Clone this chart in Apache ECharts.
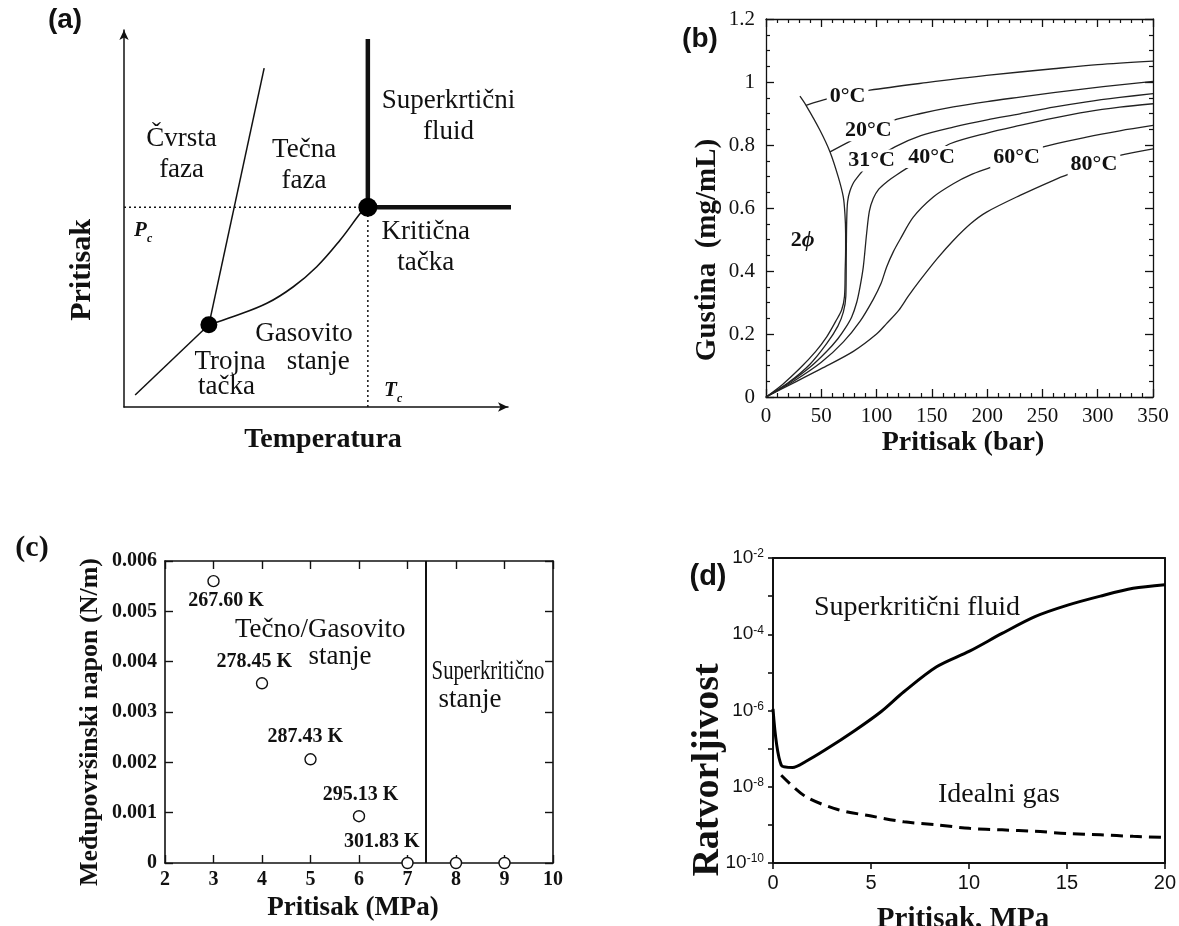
<!DOCTYPE html>
<html>
<head>
<meta charset="utf-8">
<script src="https://cdn.jsdelivr.net/npm/echarts@6/dist/echarts.min.js"></script>
<style>
  html, body { margin: 0; padding: 0; background: #fff; }
  #chart { width: 1179px; height: 926px; }
</style>
</head>
<body>
<div id="chart"></div>
<script>
const SERIF = '"Liberation Serif", "Times New Roman", serif'
const SANS = '"Liberation Sans", Arial, sans-serif'
const NARROW = '"Liberation Sans Narrow", "Liberation Sans", Arial, sans-serif'
const INK = '#111'

// (a) fazni dijagram, shematske jedinice (temperatura, pritisak)
const triplePoint = [22.1, 21.8]
const criticalPoint = [63.5, 53]
const meltLine = [[22.1, 21.8], [36.5, 89.9]]
const sublimationLine = [[2.9, 3.2], [22.1, 21.8]]
const vaporLine = [[22.1, 21.8], [28.5, 24.0], [37.2, 27.5], [44.1, 31.9], [50.2, 37.2], [56.3, 44.3], [62.3, 52.3], [63.5, 53]]
const superVertical = [[63.5, 53], [63.5, 97.6]]
const superHorizontal = [[63.5, 53], [107, 53]]
const pcLine = [[0, 53], [63.5, 53]]
const tcLine = [[63.5, 0], [63.5, 53]]
const phaseLabels = [
  [15.0, 67.1, 'Čvrsta\nfaza'],
  [46.9, 64.2, 'Tečna\nfaza'],
  [84.5, 77.0, 'Superkrtični\nfluid'],
  [78.6, 42.3, 'Kritična\ntačka'],
  [46.9, 19.5, 'Gasovito'],
  [50.6, 12.0, 'stanje'],
  [27.6, 12.0, 'Trojna'],
  [26.7, 5.4, 'tačka']
]
const pcLabel = [5.0, 46.9]
const tcLabel = [70.1, 4.5]

// (b) gustina CO2 (mg/mL) u zavisnosti od pritiska (bar)
const dome = [[0, 0], [15, 0.04], [30.7, 0.091], [45, 0.145], [54.9, 0.191], [63, 0.24], [68.4, 0.276], [71, 0.32], [71.6, 0.4], [72, 0.47], [72, 0.52], [71.4, 0.58], [69.9, 0.635], [65.4, 0.698], [57.9, 0.778], [48.8, 0.847], [36.2, 0.926], [30.7, 0.955]]
const iso0 = [[36.2, 0.926], [56.4, 0.947], [73.8, 0.959], [94, 0.974], [145, 0.998], [199.5, 1.021], [259.8, 1.042], [300, 1.055], [350, 1.066]]
const iso20 = [[57.9, 0.778], [75, 0.81], [92.5, 0.84], [115.1, 0.878], [140, 0.9], [169.4, 0.921], [200, 0.938], [229.7, 0.952], [260, 0.966], [289.9, 0.979], [320, 0.991], [350, 1.002]]
const iso31 = [[0, 0], [20, 0.045], [40, 0.105], [55, 0.17], [65, 0.225], [70, 0.27], [72.2, 0.32], [72.6, 0.45], [73, 0.56], [73.8, 0.62], [76, 0.655], [80.5, 0.688], [95.5, 0.745], [116.6, 0.794], [140, 0.83], [169.4, 0.857], [200, 0.88], [229.7, 0.899], [260, 0.92], [289.9, 0.937], [320, 0.951], [350, 0.963]]
const iso40 = [[0, 0], [20, 0.043], [40, 0.095], [55, 0.145], [65, 0.185], [72, 0.22], [77.5, 0.254], [82, 0.3], [85, 0.349], [88, 0.413], [91, 0.519], [93.5, 0.59], [97, 0.63], [102, 0.66], [110, 0.685], [118, 0.705], [134, 0.74], [149.8, 0.768], [166.4, 0.804], [200, 0.838], [229.7, 0.862], [260, 0.885], [289.9, 0.905], [320, 0.92], [350, 0.931]]
const iso60 = [[0, 0], [25, 0.05], [50, 0.11], [70, 0.175], [85, 0.24], [97, 0.31], [104, 0.36], [109.1, 0.413], [115, 0.46], [121.2, 0.5], [133.2, 0.571], [151.3, 0.635], [169.4, 0.677], [185, 0.705], [202.5, 0.728], [226.6, 0.76], [250.8, 0.794], [289.9, 0.825], [320, 0.845], [350, 0.862]]
const iso80 = [[0, 0], [25, 0.045], [50, 0.09], [79, 0.145], [100, 0.2], [109, 0.233], [120, 0.275], [128.7, 0.32], [139.2, 0.37], [155, 0.44], [169.4, 0.497], [185, 0.55], [199.5, 0.587], [229.7, 0.64], [260, 0.688], [274.9, 0.709], [296.6, 0.737], [320, 0.767], [350, 0.788]]
const isoLabels = [
  [73.8, 0.956, '0°C'],
  [92.5, 0.847, '20°C'],
  [95.5, 0.751, '31°C'],
  [149.8, 0.762, '40°C'],
  [226.6, 0.762, '60°C'],
  [296.6, 0.738, '80°C']
]
const twoPhaseLabel = [33.2, 0.499]

// (c) međupovršinski napon (N/m) u zavisnosti od pritiska (MPa)
const pressureC = [3, 4, 5, 6, 7, 8, 9]
const tensionC = [0.0056, 0.00357, 0.00206, 0.00093, 0, 0, 0]
const criticalPressureC = 7.38
const tempLabels = [
  [3.26, 0.0052, '267.60 K'],
  [3.84, 0.00399, '278.45 K'],
  [4.89, 0.00251, '287.43 K'],
  [6.03, 0.00135, '295.13 K'],
  [6.47, 0.00043, '301.83 K']
]
const regionLabelsC = [
  [5.2, 0.00463, 'Tečno/Gasovito'],
  [5.61, 0.0041, 'stanje'],
  [8.29, 0.00325, 'stanje']
]

// (d) rastvorljivost u zavisnosti od pritiska (MPa)
const supercritical = [[0, 1.1e-6], [0.42, 3.7e-8], [1.0, 3.2e-8], [1.67, 4.6e-8], [2.67, 9.3e-8], [4.18, 3.0e-7], [5.51, 9.3e-7], [6.68, 3.1e-6], [8.35, 1.4e-5], [10.03, 3.6e-5], [11.69, 1.05e-4], [13.37, 2.9e-4], [15.04, 5.8e-4], [16.71, 1.0e-3], [18.38, 1.6e-3], [20, 2.0e-3]]
const idealGas = [[0.42, 2.0e-8], [1.67, 5.5e-9], [3.34, 2.5e-9], [5.01, 1.7e-9], [6.68, 1.2e-9], [8.35, 1.0e-9], [10.03, 8.1e-10], [11.69, 7.4e-10], [13.37, 6.8e-10], [15.04, 5.9e-10], [16.71, 5.5e-10], [18.38, 5.0e-10], [20, 4.7e-10]]
const curveLabelsD = [
  [7.35, 5.0e-4, 'Superkritični fluid'],
  [11.53, 6.2e-9, 'Idealni gas']
]

const chart = echarts.init(document.getElementById('chart'), null, { renderer: 'canvas' })

// pomoćne funkcije
function line(xi, yi, data, style, extra) {
  return Object.assign({
    type: 'line', xAxisIndex: xi, yAxisIndex: yi, data: data,
    symbol: 'none', silent: true, clip: false, animation: false,
    lineStyle: Object.assign({ color: INK, width: 1.5 }, style)
  }, extra || {})
}
function texts(xi, yi, items, label) {
  return {
    type: 'scatter', xAxisIndex: xi, yAxisIndex: yi, symbolSize: 1, silent: true, z: 10, clip: false,
    itemStyle: { color: 'rgba(0,0,0,0)', opacity: 1 }, emphasis: { disabled: true }, animation: false,
    data: items.map(d => ({ name: d[2] || '', value: [d[0], d[1]] })),
    label: Object.assign({ show: true, position: 'inside', formatter: '{b}', color: INK }, label)
  }
}
function dot(point, size) {
  return {
    type: 'scatter', xAxisIndex: 0, yAxisIndex: 0, data: [point], symbolSize: size,
    itemStyle: { color: '#000', opacity: 1 }, silent: true, z: 5, clip: false
  }
}
function title(text, x, y, font, rotation, extra) {
  return Object.assign({
    type: 'text', x: x, y: y, rotation: rotation || 0, silent: true,
    style: { text: text, font: font, fill: INK, textAlign: 'center', textVerticalAlign: 'middle', align: 'center', verticalAlign: 'middle' }
  }, extra || {})
}
const frameLine = w => ({ show: true, onZero: false, lineStyle: { color: INK, width: w } })
const noLabel = { show: false }
const noSplit = { show: false }
const subRich = {
  p: { fontFamily: SERIF, fontStyle: 'italic', fontWeight: 'bold', fontSize: 21, color: INK, lineHeight: 22, verticalAlign: 'bottom' },
  s: { fontFamily: SERIF, fontStyle: 'italic', fontWeight: 'bold', fontSize: 12, color: INK, lineHeight: 22, verticalAlign: 'bottom', padding: [0, 0, -4, 0] }
}

const option = {
  backgroundColor: '#fff',
  animation: false,
  grid: [
    { left: 124, top: 30, width: 384, height: 377 },
    { left: 766, top: 19, width: 387, height: 378 },
    { left: 165, top: 561, width: 388, height: 302 },
    { left: 773, top: 558, width: 399, height: 305 }
  ],
  xAxis: [
    // (a)
    { gridIndex: 0, type: 'value', min: 0, max: 100,
      axisLine: { show: true, onZero: false, symbol: ['none', 'arrow'], symbolSize: [7, 10], lineStyle: { color: INK, width: 1.5 } },
      axisTick: { show: false }, axisLabel: noLabel, splitLine: noSplit },
    // (b)
    { gridIndex: 1, type: 'value', min: 0, max: 350, interval: 50, axisLine: frameLine(1.3),
      axisTick: { inside: true, length: 8, lineStyle: { color: INK, width: 1.3 } },
      minorTick: { show: true, splitNumber: 5, length: 4, lineStyle: { color: INK, width: 1.2 } },
      axisLabel: { fontFamily: SERIF, fontSize: 21, color: INK, margin: 9 }, splitLine: noSplit },
    { gridIndex: 1, type: 'value', position: 'top', min: 0, max: 350, interval: 50, axisLine: frameLine(1.3),
      axisTick: { inside: true, length: 8, lineStyle: { color: INK, width: 1.3 } },
      minorTick: { show: true, splitNumber: 5, length: 4, lineStyle: { color: INK, width: 1.2 } },
      axisLabel: noLabel, splitLine: noSplit },
    // (c)
    { gridIndex: 2, type: 'value', min: 2, max: 10, interval: 1, axisLine: frameLine(1.6),
      axisTick: { inside: true, length: 8, lineStyle: { color: INK, width: 1.4 } },
      axisLabel: { fontFamily: SERIF, fontWeight: 'bold', fontSize: 20, color: INK, margin: 7 }, splitLine: noSplit },
    { gridIndex: 2, type: 'value', position: 'top', min: 2, max: 10, interval: 1, axisLine: frameLine(1.6),
      axisTick: { inside: true, length: 8, lineStyle: { color: INK, width: 1.4 } },
      axisLabel: noLabel, splitLine: noSplit },
    // (d)
    { gridIndex: 3, type: 'value', min: 0, max: 20, interval: 5, axisLine: frameLine(2),
      axisTick: { inside: false, length: 6, lineStyle: { color: INK, width: 1.6 } },
      axisLabel: { fontFamily: NARROW, fontSize: 20, color: INK, margin: 10 }, splitLine: noSplit },
    { gridIndex: 3, type: 'value', position: 'top', min: 0, max: 20, axisLine: frameLine(2),
      axisTick: { show: false }, axisLabel: noLabel, splitLine: noSplit }
  ],
  yAxis: [
    // (a)
    { gridIndex: 0, type: 'value', min: 0, max: 100,
      axisLine: { show: true, onZero: false, symbol: ['none', 'arrow'], symbolSize: [7, 10], lineStyle: { color: INK, width: 1.5 } },
      axisTick: { show: false }, axisLabel: noLabel, splitLine: noSplit },
    // (b)
    { gridIndex: 1, type: 'value', min: 0, max: 1.2, interval: 0.2, axisLine: frameLine(1.3),
      axisTick: { inside: true, length: 8, lineStyle: { color: INK, width: 1.3 } },
      minorTick: { show: true, splitNumber: 4, length: 4, lineStyle: { color: INK, width: 1.2 } },
      axisLabel: { fontFamily: SERIF, fontSize: 21, color: INK, margin: 11 }, splitLine: noSplit },
    { gridIndex: 1, type: 'value', position: 'right', min: 0, max: 1.2, interval: 0.2, axisLine: frameLine(1.3),
      axisTick: { inside: true, length: 8, lineStyle: { color: INK, width: 1.3 } },
      minorTick: { show: true, splitNumber: 4, length: 4, lineStyle: { color: INK, width: 1.2 } },
      axisLabel: noLabel, splitLine: noSplit },
    // (c)
    { gridIndex: 2, type: 'value', min: 0, max: 0.006, interval: 0.001, axisLine: frameLine(1.6),
      axisTick: { inside: true, length: 8, lineStyle: { color: INK, width: 1.4 } },
      axisLabel: { fontFamily: SERIF, fontWeight: 'bold', fontSize: 20, color: INK, margin: 8 }, splitLine: noSplit },
    { gridIndex: 2, type: 'value', position: 'right', min: 0, max: 0.006, interval: 0.001, axisLine: frameLine(1.6),
      axisTick: { inside: true, length: 8, lineStyle: { color: INK, width: 1.4 } },
      axisLabel: noLabel, splitLine: noSplit },
    // (d)
    { gridIndex: 3, type: 'log', logBase: 10, min: 1e-10, max: 1e-2, interval: 1, axisLine: frameLine(2),
      axisTick: { inside: false, length: 5, lineStyle: { color: INK, width: 1.6 } },
      axisLabel: {
        fontFamily: NARROW, fontSize: 19, color: INK, margin: 9, lineHeight: 20,
        formatter: v => {
          const e = Math.round(Math.log10(v))
          return e % 2 === 0 ? '10{s|' + e + '}' : ''
        },
        rich: { s: { fontFamily: NARROW, fontSize: 12, color: INK, verticalAlign: 'top', lineHeight: 20 } }
      },
      splitLine: noSplit },
    { gridIndex: 3, type: 'value', position: 'right', min: 0, max: 1, axisLine: frameLine(2),
      axisTick: { show: false }, axisLabel: noLabel, splitLine: noSplit }
  ],
  series: [
    // (a)
    line(0, 0, pcLine, { type: [2, 3], width: 1.5 }),
    line(0, 0, tcLine, { type: [2, 3], width: 1.5 }),
    line(0, 0, meltLine, { width: 1.5 }),
    line(0, 0, sublimationLine, { width: 1.5 }),
    line(0, 0, vaporLine, { width: 1.6 }, { smooth: 0.4 }),
    line(0, 0, superVertical, { width: 4.5 }),
    line(0, 0, superHorizontal, { width: 4.5 }),
    dot(triplePoint, 17),
    dot(criticalPoint, 19),
    texts(0, 0, phaseLabels, { fontFamily: SERIF, fontSize: 27, lineHeight: 31 }),
    texts(0, 0, [pcLabel], { formatter: '{p|P}{s|c}', rich: subRich }),
    texts(0, 0, [tcLabel], { formatter: '{p|T}{s|c}', rich: subRich }),
    // (b)
    line(1, 1, dome, { width: 1.3, color: '#222' }, { smooth: 0.3 }),
    line(1, 1, iso0, { width: 1.3, color: '#222' }, { smooth: 0.3 }),
    line(1, 1, iso20, { width: 1.3, color: '#222' }, { smooth: 0.3 }),
    line(1, 1, iso31, { width: 1.3, color: '#222' }, { smooth: 0.3 }),
    line(1, 1, iso40, { width: 1.3, color: '#222' }, { smooth: 0.3 }),
    line(1, 1, iso60, { width: 1.3, color: '#222' }, { smooth: 0.3 }),
    line(1, 1, iso80, { width: 1.3, color: '#222' }, { smooth: 0.3 }),
    texts(1, 1, isoLabels, { fontFamily: SERIF, fontWeight: 'bold', fontSize: 22, backgroundColor: '#fff', padding: [0, 3] }),
    texts(1, 1, [twoPhaseLabel], {
      formatter: '{n|2}{p|ϕ}',
      rich: {
        n: { fontFamily: SERIF, fontWeight: 'bold', fontSize: 22, color: INK },
        p: { fontFamily: SERIF, fontWeight: 'bold', fontStyle: 'italic', fontSize: 22, color: INK }
      }
    }),
    // (c)
    {
      type: 'scatter', xAxisIndex: 3, yAxisIndex: 3, clip: false, silent: true, z: 5,
      data: pressureC.map((p, i) => [p, tensionC[i]]),
      symbol: 'circle', symbolSize: 11,
      itemStyle: { color: '#fff', borderColor: INK, borderWidth: 1.4, opacity: 1 },
      markLine: {
        silent: true, symbol: 'none', label: { show: false },
        lineStyle: { color: INK, width: 2, type: 'solid' },
        data: [{ xAxis: criticalPressureC }]
      }
    },
    texts(3, 3, tempLabels, { fontFamily: SERIF, fontWeight: 'bold', fontSize: 20 }),
    texts(3, 3, regionLabelsC, { fontFamily: SERIF, fontSize: 27 }),
    // (d)
    line(5, 5, supercritical, { width: 3, color: '#000' }, { smooth: 0.3 }),
    line(5, 5, idealGas, { width: 3, color: '#000', type: [12, 7] }, { smooth: 0.3 }),
    texts(5, 5, curveLabelsD, { fontFamily: SERIF, fontSize: 28 })
  ],
  graphic: [
    title('(a)', 65, 20, 'bold 28px ' + SANS),
    title('(b)', 700, 39, 'bold 28px ' + SANS),
    title('(c)', 32, 548, 'bold 30px ' + SERIF),
    title('(d)', 708, 577, 'bold 29px ' + SANS),
    title('Pritisak', 82, 270, 'bold 30px ' + SERIF, Math.PI / 2),
    title('Temperatura', 323, 440, 'bold 28px ' + SERIF),
    title('Gustina  (mg/mL)', 708, 250, 'bold 29px ' + SERIF, Math.PI / 2),
    title('Pritisak (bar)', 963, 443, 'bold 28px ' + SERIF),
    title('Međupovršinski napon (N/m)', 90, 722, 'bold 26px ' + SERIF, Math.PI / 2),
    title('Pritisak (MPa)', 353, 908, 'bold 27px ' + SERIF),
    title('Superkritično', 488, 672, '28px ' + SERIF, 0, { scaleX: 0.74 }),
    title('Ratvorljivost', 708, 770, 'bold 38px ' + SERIF, Math.PI / 2),
    title('Pritisak, MPa', 963, 920, 'bold 29px ' + SERIF)
  ]
}

chart.setOption(option)
</script>
</body>
</html>
